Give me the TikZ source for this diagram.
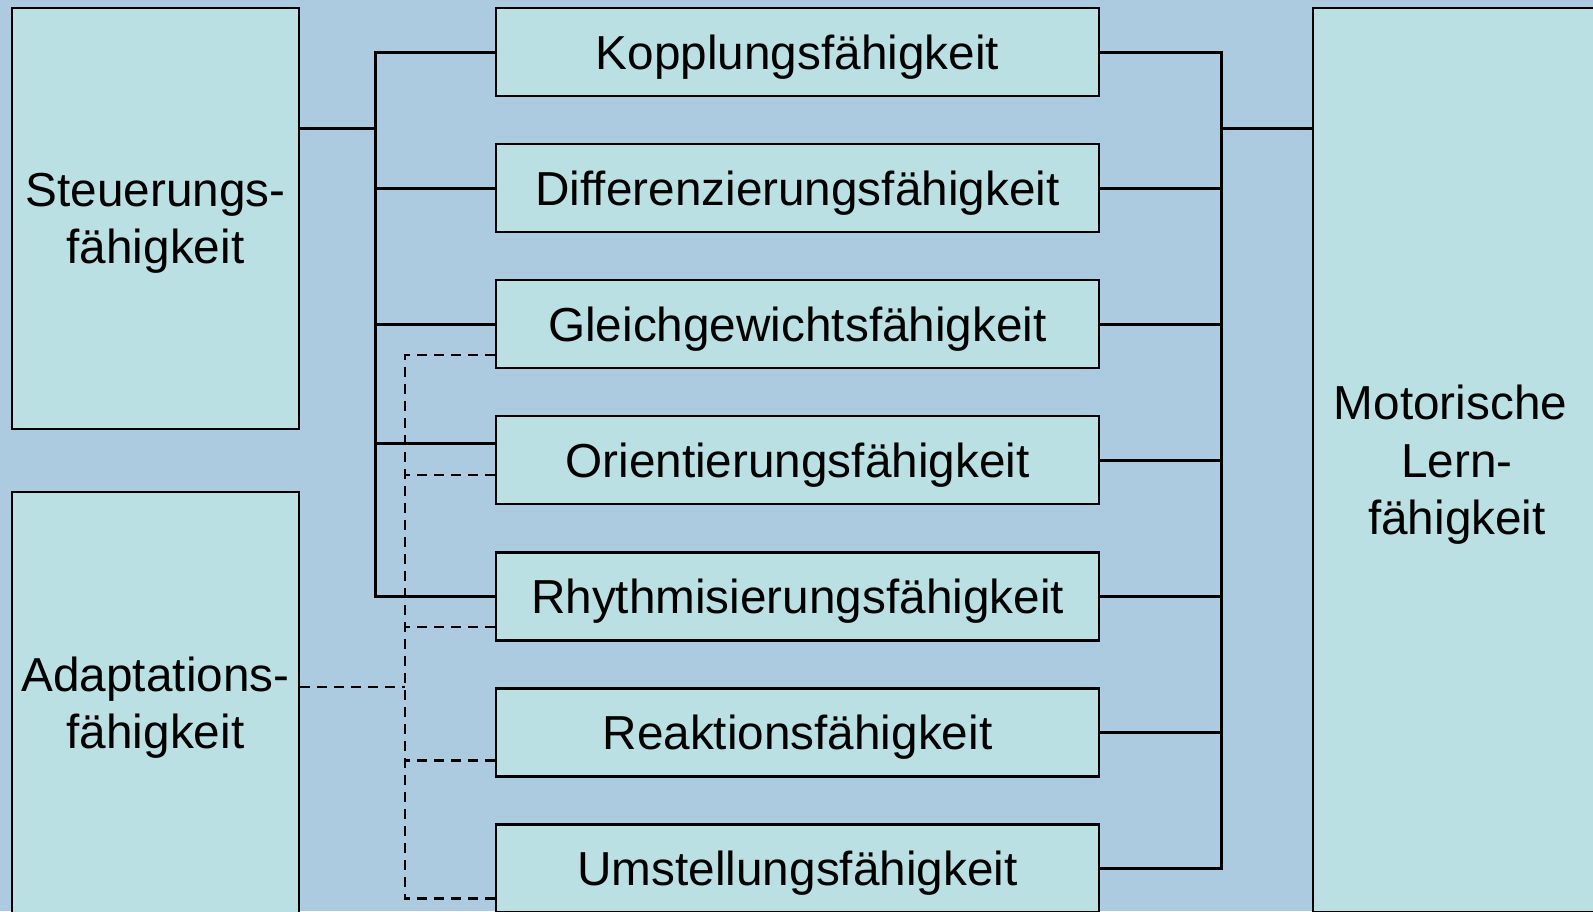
\documentclass[tikz,border=0pt]{standalone}
\usepackage{fontspec}
\setmainfont{Liberation Sans}
\definecolor{bgblue}{RGB}{172,203,224}
\definecolor{boxfill}{RGB}{186,224,227}
\begin{document}
\begin{tikzpicture}[x=1pt,y=-1pt,
  every node/.style={font=\fontsize{47.7}{57.5}\selectfont},
  sidebox/.style={draw=black,line width=2.2pt,fill=boxfill,inner sep=0pt,align=center},
  abilitybox/.style={draw=black,line width=2.3pt,fill=boxfill,inner sep=0pt,
    minimum width=603pt,minimum height=88pt,text height=34pt,text depth=0pt},
  solidline/.style={draw=black,line width=3pt},
  dashline/.style={draw=black,line width=2.3pt,dash pattern=on 10pt off 7pt}]
\useasboundingbox (0,0) rectangle (1593,911);
\fill[bgblue] (0,0) rectangle (1593,911);

% side boxes
\node[sidebox,minimum width=287pt,minimum height=421pt] (st) at (155.5,218.5)
  {Steuerungs-\\\raisebox{0pt}[\height][0pt]{fähigkeit}};
\node[sidebox,minimum width=287pt,minimum height=421pt] (ad) at (155.5,702.5)
  {Adaptations-\\\raisebox{0pt}[\height][0pt]{fähigkeit}};
\node[sidebox,minimum width=288pt,minimum height=904pt] (mo) at (1457,460)
  {Motorische\kern13pt\\Lern-\\\raisebox{0pt}[\height][0pt]{fähigkeit}};

% ability boxes
\node[abilitybox] (ko) at (797.5,52.0)  {Kopplungsfähigkeit};
\node[abilitybox] (di) at (797.5,188.1) {Differenzierungsfähigkeit};
\node[abilitybox] (gl) at (797.5,324.2) {Gleichgewichtsfähigkeit};
\node[abilitybox] (or) at (797.5,460.3) {Orientierungsfähigkeit};
\node[abilitybox] (rh) at (797.5,596.4) {Rhythmisierungsfähigkeit};
\node[abilitybox] (re) at (797.5,732.5) {Reaktionsfähigkeit};
\node[abilitybox] (um) at (797.5,868.6) {Umstellungsfähigkeit};

% bus coordinates
\coordinate (lbus) at (375,0);
\coordinate (dbus) at (405,0);
\coordinate (rbus) at (1221,0);
\coordinate (lbot) at (375,596.4);
\coordinate (dbot) at (405,898.6);
\coordinate (rbot) at (1221,868.6);
\coordinate (toplink) at (0,128);

% left solid tree (Steuerungsfähigkeit)
\draw[solidline] (ko.west) -| (lbot) -- (rh.west);
\draw[solidline] (st.east |- toplink) -- (lbus |- toplink);
\draw[solidline] (di.west) -- (di.west -| lbus);
\draw[solidline] (gl.west) -- (gl.west -| lbus);
\draw[solidline] ([yshift=17pt]or.west) -- ([yshift=17pt]or.west -| lbus);

% dashed tree (Adaptationsfähigkeit)
\draw[dashline] ([yshift=-30.5pt]gl.west) -| (dbot) -- ([yshift=-30pt]um.west);
\draw[dashline] ([yshift=15.5pt]ad.east) -- ([yshift=15.5pt]ad.east -| dbus);
\draw[dashline] ([yshift=-14.5pt]or.west) -- ([yshift=-14.5pt]or.west -| dbus);
\draw[dashline] ([yshift=-30.5pt]rh.west) -- ([yshift=-30.5pt]rh.west -| dbus);
\draw[dashline] ([yshift=-28pt]re.west) -- ([yshift=-28pt]re.west -| dbus);

% right solid tree (Motorische Lernfähigkeit)
\draw[solidline] (ko.east) -| (rbot) -- (um.east);
\draw[solidline] (di.east) -- (di.east -| rbus);
\draw[solidline] (gl.east) -- (gl.east -| rbus);
\draw[solidline] (or.east) -- (or.east -| rbus);
\draw[solidline] (rh.east) -- (rh.east -| rbus);
\draw[solidline] (re.east) -- (re.east -| rbus);
\draw[solidline] (mo.west |- toplink) -- (rbus |- toplink);
\end{tikzpicture}
\end{document}
